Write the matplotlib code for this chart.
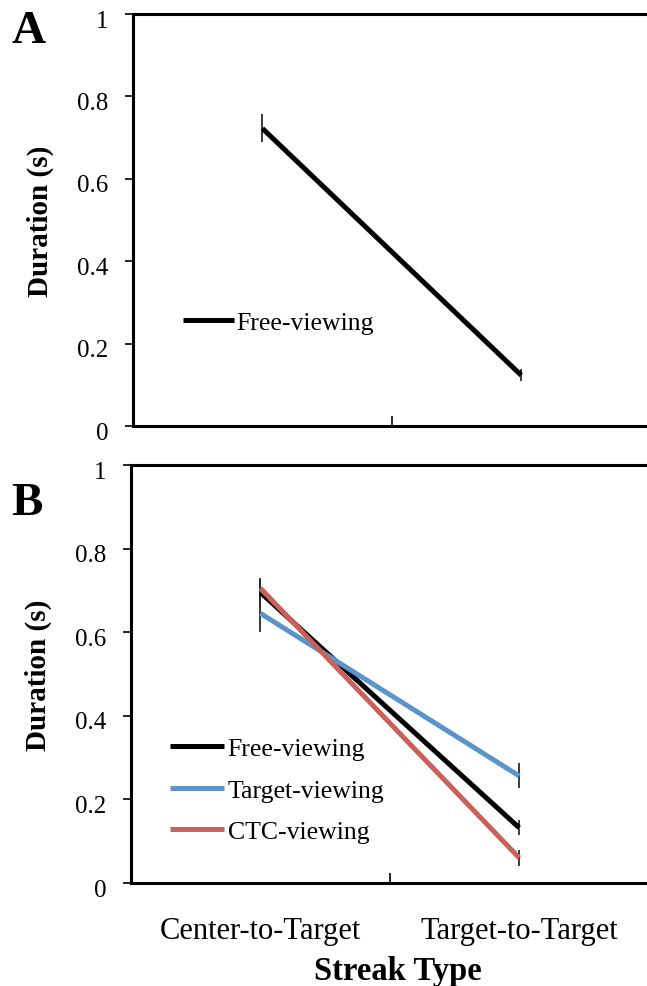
"""
Streak duration by streak type, two panels (A: free-viewing, B: three viewing conditions).
"""

import matplotlib
matplotlib.use("Agg")
import matplotlib.pyplot as plt
import matplotlib.transforms as mtransforms

# Data
categories = ["Center-to-Target", "Target-to-Target"]
x_pos = [0.5, 1.5]

# Panel A
free_a = [0.722, 0.123]
free_a_err = [0.034, 0.015]

# Panel B
free_b = [0.695, 0.132]
free_b_err = [0.035, 0.018]
target_b = [0.645, 0.256]
target_b_err = [0.045, 0.030]
ctc_b = [0.705, 0.060]
ctc_b_err = [0.020, 0.020]

y_ticks = [0, 0.2, 0.4, 0.6, 0.8, 1.0]
y_tick_labels = ["0", "0.2", "0.4", "0.6", "0.8", "1"]

BLACK = "#000000"
BLUE = "#5B93CB"
RED = "#C9605A"
ERR = "#2a2a2a"

plt.rcParams["font.family"] = ["Liberation Serif", "DejaVu Serif"]


def style_axes(ax, fig):
    ax.set_xlim(0, 2)
    ax.set_ylim(0, 1)
    for side in ["left", "bottom", "top", "right"]:
        ax.spines[side].set_linewidth(2.2)
    ax.set_yticks(y_ticks)
    ax.set_yticklabels(y_tick_labels, fontsize=18)
    ax.tick_params(axis="y", direction="out", length=6, width=1.2, pad=12)
    # labels sit a touch below their ticks in the original
    shift = mtransforms.ScaledTranslation(0, -3 / 72, fig.dpi_scale_trans)
    for lab in ax.get_yticklabels():
        lab.set_transform(lab.get_transform() + shift)
    ax.set_xticks([1])
    ax.set_xticklabels([""])
    ax.tick_params(axis="x", direction="in", length=7, width=1.2)
    ax.set_ylabel("Duration (s)", fontsize=21, fontweight="bold")
    ax.yaxis.set_label_coords(-0.152, 0.5)


def plot_series(ax, values, errs, color, label):
    ax.errorbar(x_pos, values, yerr=errs, fmt="none", ecolor=ERR,
                elinewidth=1.3, capsize=0, zorder=2)
    ax.plot(x_pos, values, color=color, linewidth=3.6, label=label,
            solid_capstyle="butt", zorder=3)


fig = plt.figure(figsize=(6.47, 9.87), dpi=100)
ax_a = fig.add_axes([0.2056, 0.5674, 0.8, 0.4175])
ax_b = fig.add_axes([0.2025, 0.1044, 0.8, 0.4235])

# Panel A
style_axes(ax_a, fig)
plot_series(ax_a, free_a, free_a_err, BLACK, "Free-viewing")
ax_a.legend(loc="center left", bbox_to_anchor=(0.096, 0.25), frameon=False,
            fontsize=18.5, handlelength=2.0, handletextpad=0.1,
            borderpad=0, borderaxespad=0)

# Panel B
style_axes(ax_b, fig)
plot_series(ax_b, free_b, free_b_err, BLACK, "Free-viewing")
plot_series(ax_b, target_b, target_b_err, BLUE, "Target-viewing")
plot_series(ax_b, ctc_b, ctc_b_err, RED, "CTC-viewing")
ax_b.set_xticks(x_pos, minor=True)
ax_b.set_xticklabels(categories, minor=True, fontsize=22)
ax_b.tick_params(axis="x", which="minor", length=0, pad=24)
ax_b.set_xlabel("Streak Type", fontsize=23.5, fontweight="bold")
ax_b.xaxis.set_label_coords(0.516, -0.172)
ax_b.legend(loc="upper left", bbox_to_anchor=(0.075, 0.348), frameon=False,
            fontsize=18.5, handlelength=2.1, handletextpad=0.15,
            labelspacing=0.72, borderpad=0, borderaxespad=0)

# Panel letters
fig.text(0.018, 0.968, "A", fontsize=34, fontweight="bold", va="center")
fig.text(0.018, 0.489, "B", fontsize=34, fontweight="bold", va="center")

fig.savefig("out.png", dpi=100)
